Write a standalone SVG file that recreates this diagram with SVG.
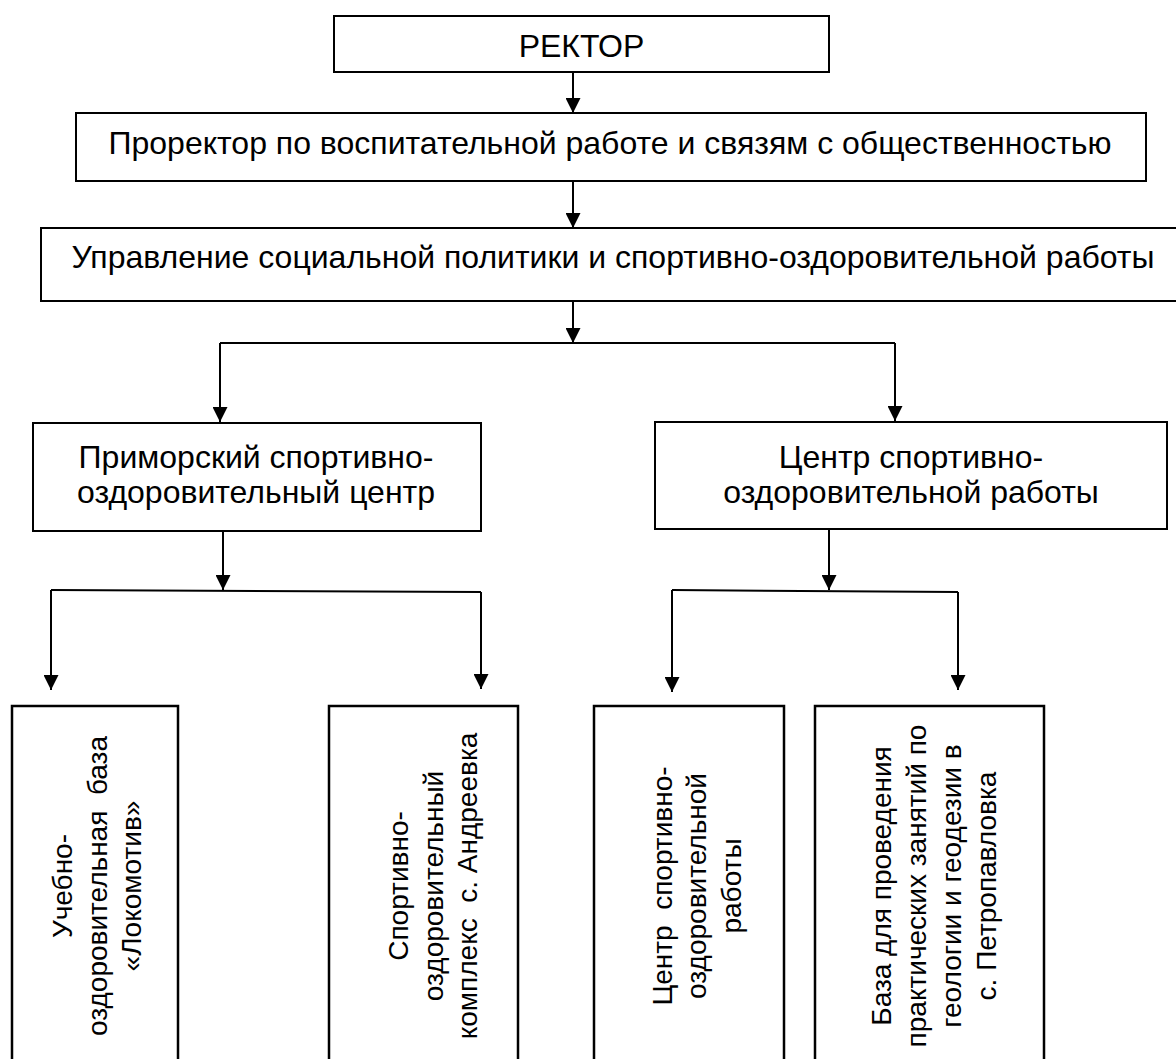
<svg xmlns="http://www.w3.org/2000/svg" width="1176" height="1059" viewBox="0 0 1176 1059">
<style>
  .box { fill: #ffffff; stroke: #000000; stroke-width: 2; }
  .bbox { fill: #ffffff; stroke: #000000; stroke-width: 2.5; }
  .t { font-family: "Liberation Sans", Arial, sans-serif; font-size: 32px; fill: #000000; text-anchor: middle; }
  .tb { font-family: "Liberation Sans", Arial, sans-serif; font-size: 28px; fill: #000000; text-anchor: middle; }
  .c { fill: none; stroke: #000000; stroke-width: 2; }
  .a { fill: none; stroke: #000000; stroke-width: 2; marker-end: url(#arr); }
</style>
<defs>
  <marker id="arr" viewBox="0 0 10 10" refX="10" refY="5" markerWidth="15" markerHeight="15" markerUnits="userSpaceOnUse" orient="auto">
    <path d="M0,0 L10,5 L0,10 z" fill="#000000"/>
  </marker>
</defs>
<rect x="0" y="0" width="1176" height="1059" fill="#ffffff"/>

<g id="connectors">
  <path class="a" d="M573,72 V113"/>
  <path class="a" d="M573,181 V228"/>
  <path class="a" d="M573,301 V343"/>
  <path class="c" d="M220,343 H895"/>
  <path class="a" d="M220,343 V422"/>
  <path class="a" d="M895,343 V421"/>
  <path class="a" d="M223,531 V590"/>
  <path class="c" d="M51,590 L481,592"/>
  <path class="a" d="M51,590 V690"/>
  <path class="a" d="M481,592 V689"/>
  <path class="a" d="M829,529 V590"/>
  <path class="c" d="M672,590 L958,592"/>
  <path class="a" d="M672,590 V692"/>
  <path class="a" d="M958,592 V690"/>
</g>

<g id="rector">
  <rect class="box" x="334" y="16" width="495" height="56"/>
  <text class="t" x="581.5" y="57">РЕКТОР</text>
</g>

<g id="prorector">
  <rect class="box" x="76" y="113" width="1070" height="68"/>
  <text class="t" x="610" y="154">Проректор по воспитательной работе и связям с общественностью</text>
</g>

<g id="upravlenie">
  <rect class="box" x="41" y="228" width="1140" height="73"/>
  <text class="t" x="613" y="268">Управление социальной политики и спортивно-оздоровительной работы</text>
</g>

<g id="primorsky">
  <rect class="box" x="33" y="423" width="448" height="108"/>
  <text class="t" x="256" y="468">Приморский спортивно-</text>
  <text class="t" x="256" y="503">оздоровительный центр</text>
</g>

<g id="centr">
  <rect class="box" x="655" y="422" width="512" height="107"/>
  <text class="t" x="911" y="468">Центр спортивно-</text>
  <text class="t" x="911" y="503">оздоровительной работы</text>
</g>

<g id="lokomotiv">
  <rect class="bbox" x="12" y="706" width="166" height="370"/>
  <g transform="translate(0,886) rotate(-90)">
    <text class="tb" x="0" y="72">Учебно-</text>
    <text class="tb" x="0" y="107" xml:space="preserve">оздоровительная  база</text>
    <text class="tb" x="0" y="141">«Локомотив»</text>
  </g>
</g>

<g id="andreevka">
  <rect class="bbox" x="329" y="706" width="189" height="370"/>
  <g transform="translate(0,886) rotate(-90)">
    <text class="tb" x="0" y="408">Спортивно-</text>
    <text class="tb" x="0" y="443">оздоровительный</text>
    <text class="tb" x="0" y="477" xml:space="preserve">комплекс  с. Андреевка</text>
  </g>
</g>

<g id="centr2">
  <rect class="bbox" x="594" y="706" width="190" height="370"/>
  <g transform="translate(0,886) rotate(-90)">
    <text class="tb" x="0" y="672" xml:space="preserve">Центр  спортивно-</text>
    <text class="tb" x="0" y="706">оздоровительной</text>
    <text class="tb" x="0" y="741">работы</text>
  </g>
</g>

<g id="petropavlovka">
  <rect class="bbox" x="815" y="706" width="229" height="370"/>
  <g transform="translate(0,886) rotate(-90)">
    <text class="tb" x="0" y="891">База для проведения</text>
    <text class="tb" x="0" y="926">практических занятий по</text>
    <text class="tb" x="0" y="961">геологии и геодезии в</text>
    <text class="tb" x="0" y="996">с. Петропавловка</text>
  </g>
</g>
</svg>
